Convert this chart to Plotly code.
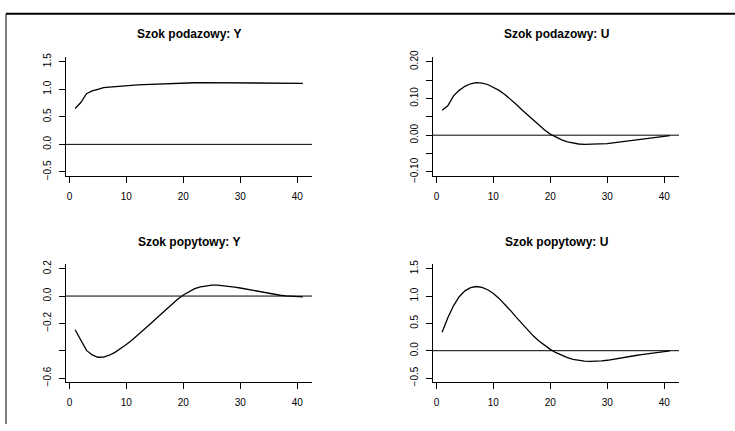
import plotly.graph_objects as go

periods = list(range(1, 42))

supply_y = [0.65, 0.76, 0.92, 0.97, 1.00, 1.03, 1.04, 1.05, 1.06, 1.07,
            1.075, 1.08, 1.085, 1.09, 1.095, 1.10, 1.105, 1.11, 1.112, 1.115,
            1.117, 1.118, 1.12, 1.12, 1.12, 1.12, 1.12, 1.12, 1.118, 1.117,
            1.116, 1.115, 1.114, 1.113, 1.112, 1.111, 1.11, 1.11, 1.109, 1.108, 1.108]

supply_u = [0.068, 0.080, 0.107, 0.122, 0.133, 0.140, 0.143, 0.142, 0.138, 0.131,
            0.122, 0.111, 0.098, 0.084, 0.069, 0.055, 0.040, 0.027, 0.014, 0.003,
            -0.006, -0.013, -0.018, -0.022, -0.024, -0.025, -0.025, -0.025, -0.024, -0.023,
            -0.021, -0.019, -0.017, -0.015, -0.012, -0.010, -0.008, -0.006, -0.004, -0.002, -0.001]

demand_y = [-0.247, -0.322, -0.398, -0.431, -0.448, -0.447, -0.433, -0.412, -0.386, -0.355,
            -0.322, -0.287, -0.250, -0.212, -0.173, -0.134, -0.096, -0.059, -0.024, 0.008,
            0.034, 0.054, 0.068, 0.076, 0.080, 0.080, 0.077, 0.072, 0.066, 0.059,
            0.051, 0.042, 0.034, 0.026, 0.018, 0.012, 0.006, 0.002, -0.002, -0.005, -0.006]

demand_u = [0.337, 0.604, 0.822, 0.988, 1.095, 1.154, 1.175, 1.160, 1.115, 1.047,
            0.957, 0.852, 0.737, 0.615, 0.494, 0.379, 0.272, 0.178, 0.095, 0.024,
            -0.037, -0.089, -0.128, -0.158, -0.178, -0.190, -0.195, -0.194, -0.187, -0.175,
            -0.160, -0.143, -0.125, -0.106, -0.088, -0.071, -0.055, -0.040, -0.027, -0.015, -0.005]

titles = ["Szok podazowy: Y", "Szok podazowy: U", "Szok popytowy: Y", "Szok popytowy: U"]
series = [supply_y, supply_u, demand_y, demand_u]
ylims = [(-0.5, 1.5), (-0.1, 0.2), (-0.6, 0.2), (-0.5, 1.5)]
ytickvals = [[-0.5, 0, 0.5, 1.0, 1.5],
             [-0.10, -0.05, 0.0, 0.05, 0.10, 0.15, 0.20],
             [-0.6, -0.4, -0.2, 0.0, 0.2],
             [-0.5, 0, 0.5, 1.0, 1.5]]
yticktext = [["\u22120.5", "0.0", "0.5", "1.0", "1.5"],
             ["\u22120.10", "", "0.00", "", "0.10", "", "0.20"],
             ["\u22120.6", "", "\u22120.2", "0.0", "0.2"],
             ["\u22120.5", "0.0", "0.5", "1.0", "1.5"]]
xtickvals = [0, 10, 20, 30, 40]

W, H = 735, 431
# plot regions in pixels (left, right, top, bottom)
regions = [(66, 312, 52, 175), (433, 679, 52, 175),
           (66, 312, 266, 388), (433, 679, 266, 388)]

FONT = "Liberation Sans, Arial, Helvetica, sans-serif"
fig = go.Figure()
layout = dict(width=W, height=H, margin=dict(l=0, r=0, t=0, b=0),
              paper_bgcolor="white", plot_bgcolor="white", showlegend=False,
              font=dict(family=FONT, color="black"))
annotations = []
shapes = []
xmin, xmax = 1, 41
xpad = (xmax - xmin) * 0.04
for i in range(4):
    n = "" if i == 0 else str(i + 1)
    l, r, t, b = regions[i]
    lo, hi = ylims[i]
    ypad = (hi - lo) * 0.04
    fig.add_trace(go.Scatter(x=periods, y=series[i], mode="lines",
                             line=dict(color="black", width=1.3),
                             xaxis="x" + n, yaxis="y" + n, hoverinfo="skip"))
    layout["xaxis" + n] = dict(domain=[l / W, r / W], range=[xmin - xpad, xmax + xpad],
                               anchor="y" + n, showgrid=False, zeroline=False,
                               showline=True, linecolor="black", linewidth=1,
                               ticks="outside", ticklen=6, tickwidth=1, tickcolor="black",
                               tickvals=xtickvals, ticktext=[str(v) for v in xtickvals],
                               tickfont=dict(size=10, family=FONT, color="black"),
                               ticklabelstandoff=5)
    layout["yaxis" + n] = dict(domain=[1 - b / H, 1 - t / H], range=[lo - ypad, hi + ypad],
                               anchor="x" + n, showgrid=False, zeroline=False,
                               showline=True, linecolor="black", linewidth=1,
                               ticks="outside", ticklen=6, tickwidth=1, tickcolor="black",
                               tickvals=ytickvals[i], ticktext=yticktext[i], tickangle=-90,
                               tickfont=dict(size=10, family=FONT, color="black"),
                               ticklabelstandoff=4)
    shapes.append(dict(type="line", xref="x" + n + " domain", yref="y" + n,
                       x0=0, x1=1, y0=0, y1=0, line=dict(color="black", width=1)))
    annotations.append(dict(text="<b>" + titles[i] + "</b>", x=(l + r) / 2 / W,
                            y=1 - (28 if i < 2 else 243) / H, xref="paper", yref="paper",
                            showarrow=False, xanchor="center", yanchor="middle",
                            font=dict(size=12, family=FONT, color="black")))

# outer frame (partially visible)
shapes.append(dict(type="line", xref="paper", yref="paper", x0=6 / W, x1=6 / W,
                   y0=0, y1=1 - 7 / H, line=dict(color="black", width=1)))
shapes.append(dict(type="line", xref="paper", yref="paper", x0=6 / W, x1=1,
                   y0=1 - 7 / H, y1=1 - 7 / H, line=dict(color="black", width=2)))

layout["annotations"] = annotations
layout["shapes"] = shapes
fig.update_layout(**layout)
fig.write_html("out.html", config={"displayModeBar": False},
               post_script="document.body.style.margin='0';document.body.style.overflow='hidden';")
